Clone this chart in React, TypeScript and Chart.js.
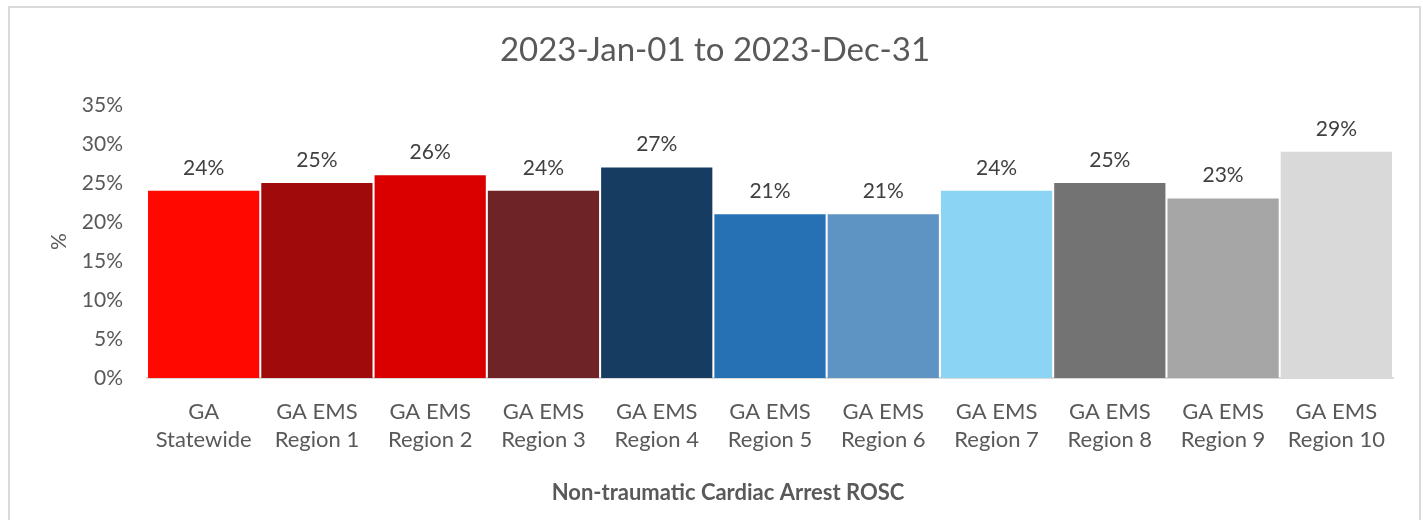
import React, { useEffect, useRef } from "react";
import { Chart, registerables } from "chart.js";

Chart.register(...registerables);

const categories: string[][] = [
  ["GA", "Statewide"],
  ["GA EMS", "Region 1"],
  ["GA EMS", "Region 2"],
  ["GA EMS", "Region 3"],
  ["GA EMS", "Region 4"],
  ["GA EMS", "Region 5"],
  ["GA EMS", "Region 6"],
  ["GA EMS", "Region 7"],
  ["GA EMS", "Region 8"],
  ["GA EMS", "Region 9"],
  ["GA EMS", "Region 10"],
];
const roscValues: number[] = [24, 25, 26, 24, 27, 21, 21, 24, 25, 23, 29];
const barColors: string[] = [
  "#FF0800", "#A00A0A", "#DA0000", "#6E2427", "#163C62", "#2670B4",
  "#5E94C4", "#8BD4F4", "#737373", "#A6A6A6", "#D9D9D9",
];
const yTickMax = 35;
const yTickStep = 5;
const titleText = "2023-Jan-01 to 2023-Dec-31";
const xTitleText = "Non-traumatic Cardiac Arrest ROSC";
const yTitleText = "%";

const FONT = "Lato, 'Open Sans', sans-serif";

const textPlugin = {
  id: "textOverlay",
  afterDatasetsDraw(chart: any) {
    const ctx = chart.ctx;
    const meta = chart.getDatasetMeta(0);
    ctx.save();
    ctx.font = `21px ${FONT}`;
    ctx.fillStyle = "#404040";
    ctx.textAlign = "center";
    ctx.textBaseline = "middle";
    meta.data.forEach((bar: any, i: number) => {
      ctx.fillText(`${roscValues[i]}%`, bar.x, bar.y - 23);
    });
    // chart title
    ctx.font = `33px ${FONT}`;
    ctx.fillStyle = "#595959";
    ctx.fillText(titleText, 705, 42);
    // x-axis title
    ctx.font = `bold 22px ${FONT}`;
    ctx.fillText(xTitleText, 718, 485);
    ctx.restore();
  },
};

export default function App() {
  const ref = useRef<HTMLCanvasElement | null>(null);
  useEffect(() => {
    if (!ref.current) return;
    const chart = new Chart(ref.current, {
      type: "bar",
      data: {
        labels: categories,
        datasets: [
          {
            data: roscValues,
            backgroundColor: barColors,
            barPercentage: 0.982,
            categoryPercentage: 1,
          },
        ],
      },
      options: {
        responsive: false,
        animation: false,
        layout: { padding: { left: 0, right: 26, top: 97, bottom: 0 } },
        plugins: {
          legend: { display: false },
          tooltip: { enabled: false },
          title: { display: false },
        },
        scales: {
          x: {
            grid: { display: false, drawTicks: false },
            border: { display: true, color: "#D9D9D9", width: 2 },
            ticks: {
              color: "#595959",
              font: { family: FONT, size: 22, lineHeight: 1.28 },
              padding: 20,
              maxRotation: 0,
              autoSkip: false,
            },
            title: { display: false },
            afterFit: (s: any) => {
              s.height = 142;
            },
          },
          y: {
            min: 0,
            max: yTickMax,
            grid: { display: false, drawTicks: false },
            border: { display: false },
            ticks: {
              stepSize: yTickStep,
              color: "#595959",
              font: { family: FONT, size: 21 },
              padding: 24,
              callback: (v: any) => `${v}%`,
            },
            title: {
              display: true,
              text: yTitleText,
              color: "#595959",
              font: { family: FONT, size: 21, lineHeight: 1.2 },
              padding: { top: 37, bottom: 0 },
            },
            afterFit: (s: any) => {
              s.width = 137;
            },
          },
        },
      },
      plugins: [textPlugin],
    });
    return () => chart.destroy();
  }, []);

  return (
    <div
      style={{
        position: "fixed",
        left: 8,
        top: 6,
        width: 1413,
        height: 520,
        boxSizing: "border-box",
        border: "2px solid #D9D9D9",
        borderBottom: "none",
        background: "#fff",
        overflow: "hidden",
      }}
    >
      <canvas ref={ref} width={1409} height={512} style={{ display: "block" }} />
    </div>
  );
}
